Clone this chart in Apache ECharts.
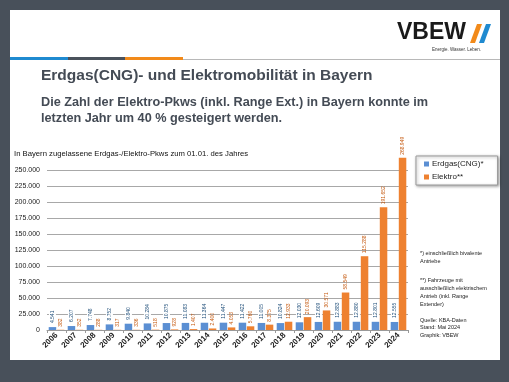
<!DOCTYPE html>
<html><head><meta charset="utf-8">
<script src="https://cdn.jsdelivr.net/npm/echarts@6/dist/echarts.min.js"></script>
<style>html,body{margin:0;padding:0;background:#48505a;}#c{width:509px;height:382px;}</style>
</head><body><div id="c"></div>
<script>
const years = ['2006','2007','2008','2009','2010','2011','2012','2013','2014','2015','2016','2017','2018','2019','2020','2021','2022','2023','2024'];
const cng = [4541,6207,7748,8752,9840,10284,10875,11083,11364,11447,11422,11005,10824,12030,12609,12883,12880,12801,12555];
const elektro = [382,352,288,317,336,518,928,1407,2400,4053,5760,8375,12933,20093,30571,58549,115288,191652,268949];
const yTicks = {min:0, max:250000, interval:25000};
const FONT = 'Liberation Sans, Arial, sans-serif';
const fmt = v => String(v).replace(/\B(?=(\d{3})+(?!\d))/g, '.');
const chart = echarts.init(document.getElementById('c'), null, {renderer:'canvas'});
const txt = (x,y,s,size,opt={}) => ({type:'text', left:x, top:y, silent:true, z:10,
  style:Object.assign({text:s, font:(opt.weight||'normal')+' '+size+'px '+(opt.family||FONT), fill:opt.color||'#222'}, opt.extra||{})});
chart.setOption({
  backgroundColor:'#48505a',
  animation:false,
  textStyle:{fontFamily:FONT},
  graphic:[
    {type:'rect', shape:{x:10,y:10,width:490,height:350}, style:{fill:'#fff'}, z:-10, silent:true},
    {type:'rect', shape:{x:10,y:57,width:58,height:3}, style:{fill:'#1f8ad0'}, silent:true},
    {type:'rect', shape:{x:68,y:57,width:57,height:3}, style:{fill:'#4a525c'}, silent:true},
    {type:'rect', shape:{x:125,y:57,width:58,height:3}, style:{fill:'#f28a1a'}, silent:true},
    {type:'rect', shape:{x:183,y:59,width:317,height:1}, style:{fill:'#b8b8b8'}, silent:true},
    txt(397,21,'VBEW',23,{weight:'900',color:'#1a1a1a'}),
    {type:'polygon', shape:{points:[[470,43],[475,43],[482,24],[477,24]]}, style:{fill:'#f28a1a'}, silent:true},
    {type:'polygon', shape:{points:[[479,43],[484,43],[491,24],[486,24]]}, style:{fill:'#1f8ad0'}, silent:true},
    txt(432,47,'Energie. Wasser. Leben.',4.5,{color:'#333'}),
    txt(41,68,'Erdgas(CNG)- und Elektromobilität in Bayern',15.5,{weight:'bold',color:'#444b55'}),
    txt(41,96,'Die Zahl der Elektro-Pkws (inkl. Range Ext.) in Bayern konnte im',12.7,{weight:'bold',color:'#444b55'}),
    txt(41,112,'letzten Jahr um 40 % gesteigert werden.',12.7,{weight:'bold',color:'#444b55'}),
    txt(14,150,'In Bayern zugelassene Erdgas-/Elektro-Pkws zum 01.01. des Jahres',7.7,{color:'#111'}),
    txt(420,250,'*) einschließlich bivalente',5.5,{color:'#222'}),
    txt(420,258,'Antriebe',5.5,{color:'#222'}),
    txt(420,277,'**) Fahrzeuge mit',5.5,{color:'#222'}),
    txt(420,285,'ausschließlich elektrischem',5.5,{color:'#222'}),
    txt(420,293,'Antrieb (inkl. Range',5.5,{color:'#222'}),
    txt(420,301,'Extender)',5.5,{color:'#222'}),
    txt(420,317,'Quelle: KBA-Daten',5.5,{color:'#222'}),
    txt(420,324,'Stand: Mai 2024',5.5,{color:'#222'}),
    txt(420,332,'Graphik: VBEW',5.5,{color:'#222'})
  ],
  legend:{
    orient:'vertical', left:416, top:156, width:80,
    backgroundColor:'#fff', borderColor:'#9a9a9a', borderWidth:1,
    shadowColor:'rgba(0,0,0,0.35)', shadowBlur:3, shadowOffsetX:1, shadowOffsetY:1,
    padding:[4,14,4,8], itemGap:5, itemWidth:5, itemHeight:5, icon:'rect',
    textStyle:{fontSize:8, color:'#222', padding:[0,0,0,-2]},
    data:['Erdgas(CNG)*','Elektro**']
  },
  grid:{left:47, right:101, top:170, bottom:52, containLabel:false},
  xAxis:{
    type:'category', data:years,
    axisLine:{lineStyle:{color:'#999'}},
    axisTick:{show:true, lineStyle:{color:'#999'}, length:3},
    axisLabel:{rotate:45, fontSize:8, fontWeight:'bold', color:'#222', margin:4}
  },
  yAxis:{
    type:'value', min:yTicks.min, max:yTicks.max, interval:yTicks.interval,
    axisLine:{show:false}, axisTick:{show:false},
    splitLine:{lineStyle:{color:'#a8a8a8', width:1}},
    axisLabel:{fontSize:7, color:'#222', margin:7, formatter:v=>fmt(v)}
  },
  series:[
    {name:'Erdgas(CNG)*', type:'bar', data:cng, barWidth:7.5, barGap:'8%', clip:false,
     itemStyle:{color:'#5b8fd3'},
     label:{show:true, position:'top', rotate:90, align:'left', verticalAlign:'middle', distance:3,
       fontSize:5, color:'#1f4e79', backgroundColor:'#fff', padding:[1,1], formatter:p=>fmt(p.value)}},
    {name:'Elektro**', type:'bar', data:elektro, barWidth:7.5, clip:false,
     itemStyle:{color:'#ee8130'},
     label:{show:true, position:'top', rotate:90, align:'left', verticalAlign:'middle', distance:3,
       fontSize:5, color:'#c55a11', formatter:p=>fmt(p.value)}}
  ]
});
</script></body></html>
